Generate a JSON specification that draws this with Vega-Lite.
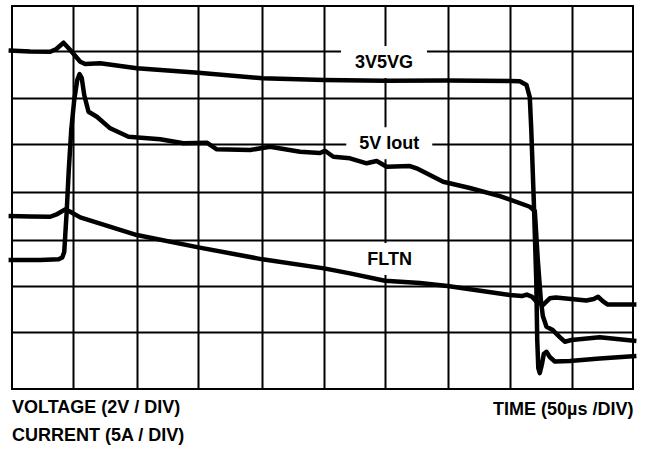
{
  "$schema": "https://vega.github.io/schema/vega-lite/v6.json",
  "width": 621,
  "height": 383,
  "autosize": {"type": "none"},
  "padding": {"left": 12, "top": 6, "right": 13, "bottom": 60},
  "background": "white",
  "title": {
    "text": ["VOLTAGE (2V / DIV)", "CURRENT (5A / DIV)"],
    "orient": "bottom",
    "anchor": "start",
    "frame": "group",
    "offset": -19,
    "font": "Liberation Sans",
    "fontSize": 18,
    "fontWeight": "bold",
    "lineHeight": 27.5,
    "color": "black",
    "baseline": "top"
  },
  "datasets": {
    "traces": [
      {"series": "3V5VG", "t": -0.055, "v": 7.047},
      {"series": "3V5VG", "t": 0.294, "v": 7.026},
      {"series": "3V5VG", "t": 0.616, "v": 7.021},
      {"series": "3V5VG", "t": 0.713, "v": 7.079},
      {"series": "3V5VG", "t": 0.83, "v": 7.214},
      {"series": "3V5VG", "t": 0.938, "v": 7.058},
      {"series": "3V5VG", "t": 1.099, "v": 6.807},
      {"series": "3V5VG", "t": 1.179, "v": 6.758},
      {"series": "3V5VG", "t": 1.42, "v": 6.773},
      {"series": "3V5VG", "t": 2.011, "v": 6.666},
      {"series": "3V5VG", "t": 3.002, "v": 6.572},
      {"series": "3V5VG", "t": 4.032, "v": 6.452},
      {"series": "3V5VG", "t": 5.024, "v": 6.415},
      {"series": "3V5VG", "t": 6.005, "v": 6.4},
      {"series": "3V5VG", "t": 7.014, "v": 6.405},
      {"series": "3V5VG", "t": 8.016, "v": 6.394},
      {"series": "3V5VG", "t": 8.177, "v": 6.388},
      {"series": "3V5VG", "t": 8.285, "v": 6.308},
      {"series": "3V5VG", "t": 8.338, "v": 6.051},
      {"series": "3V5VG", "t": 8.362, "v": 5.345},
      {"series": "3V5VG", "t": 8.402, "v": 3.846},
      {"series": "3V5VG", "t": 8.442, "v": 2.133},
      {"series": "3V5VG", "t": 8.458, "v": 0.848},
      {"series": "3V5VG", "t": 8.475, "v": 0.248},
      {"series": "3V5VG", "t": 8.499, "v": 0.141},
      {"series": "3V5VG", "t": 8.531, "v": 0.313},
      {"series": "3V5VG", "t": 8.563, "v": 0.548},
      {"series": "3V5VG", "t": 8.607, "v": 0.597},
      {"series": "3V5VG", "t": 8.66, "v": 0.484},
      {"series": "3V5VG", "t": 8.741, "v": 0.388},
      {"series": "3V5VG", "t": 8.982, "v": 0.398},
      {"series": "3V5VG", "t": 9.464, "v": 0.452},
      {"series": "3V5VG", "t": 10.055, "v": 0.505},

      {"series": "5V Iout", "t": -0.055, "v": 2.561},
      {"series": "5V Iout", "t": 0.455, "v": 2.561},
      {"series": "5V Iout", "t": 0.75, "v": 2.576},
      {"series": "5V Iout", "t": 0.809, "v": 2.615},
      {"series": "5V Iout", "t": 0.841, "v": 2.732},
      {"series": "5V Iout", "t": 0.882, "v": 3.632},
      {"series": "5V Iout", "t": 0.914, "v": 4.488},
      {"series": "5V Iout", "t": 0.954, "v": 5.345},
      {"series": "5V Iout", "t": 1.002, "v": 5.987},
      {"series": "5V Iout", "t": 1.051, "v": 6.415},
      {"series": "5V Iout", "t": 1.088, "v": 6.544},
      {"series": "5V Iout", "t": 1.123, "v": 6.458},
      {"series": "5V Iout", "t": 1.163, "v": 6.094},
      {"series": "5V Iout", "t": 1.232, "v": 5.737},
      {"series": "5V Iout", "t": 1.367, "v": 5.63},
      {"series": "5V Iout", "t": 1.581, "v": 5.381},
      {"series": "5V Iout", "t": 1.876, "v": 5.201},
      {"series": "5V Iout", "t": 2.386, "v": 5.146},
      {"series": "5V Iout", "t": 2.761, "v": 5.06},
      {"series": "5V Iout", "t": 3.137, "v": 5.073},
      {"series": "5V Iout", "t": 3.298, "v": 4.931},
      {"series": "5V Iout", "t": 3.834, "v": 4.916},
      {"series": "5V Iout", "t": 4.155, "v": 4.987},
      {"series": "5V Iout", "t": 4.638, "v": 4.88},
      {"series": "5V Iout", "t": 4.96, "v": 4.852},
      {"series": "5V Iout", "t": 5.04, "v": 4.901},
      {"series": "5V Iout", "t": 5.174, "v": 4.773},
      {"series": "5V Iout", "t": 5.442, "v": 4.739},
      {"series": "5V Iout", "t": 5.711, "v": 4.632},
      {"series": "5V Iout", "t": 5.872, "v": 4.681},
      {"series": "5V Iout", "t": 6.033, "v": 4.559},
      {"series": "5V Iout", "t": 6.408, "v": 4.574},
      {"series": "5V Iout", "t": 6.515, "v": 4.525},
      {"series": "5V Iout", "t": 6.943, "v": 4.238},
      {"series": "5V Iout", "t": 7.373, "v": 4.103},
      {"series": "5V Iout", "t": 7.856, "v": 3.931},
      {"series": "5V Iout", "t": 8.338, "v": 3.702},
      {"series": "5V Iout", "t": 8.419, "v": 3.61},
      {"series": "5V Iout", "t": 8.467, "v": 2.561},
      {"series": "5V Iout", "t": 8.516, "v": 1.704},
      {"series": "5V Iout", "t": 8.548, "v": 1.362},
      {"series": "5V Iout", "t": 8.607, "v": 1.133},
      {"series": "5V Iout", "t": 8.708, "v": 1.062},
      {"series": "5V Iout", "t": 8.821, "v": 0.912},
      {"series": "5V Iout", "t": 8.901, "v": 0.812},
      {"series": "5V Iout", "t": 9.009, "v": 0.848},
      {"series": "5V Iout", "t": 9.464, "v": 0.906},
      {"series": "5V Iout", "t": 10.055, "v": 0.827},

      {"series": "FLTN", "t": -0.055, "v": 3.503},
      {"series": "FLTN", "t": 0.294, "v": 3.493},
      {"series": "FLTN", "t": 0.616, "v": 3.488},
      {"series": "FLTN", "t": 0.729, "v": 3.546},
      {"series": "FLTN", "t": 0.857, "v": 3.647},
      {"series": "FLTN", "t": 0.938, "v": 3.595},
      {"series": "FLTN", "t": 1.099, "v": 3.475},
      {"series": "FLTN", "t": 2.011, "v": 3.096},
      {"series": "FLTN", "t": 3.002, "v": 2.833},
      {"series": "FLTN", "t": 4.032, "v": 2.576},
      {"series": "FLTN", "t": 5.024, "v": 2.383},
      {"series": "FLTN", "t": 5.442, "v": 2.276},
      {"series": "FLTN", "t": 6.005, "v": 2.118},
      {"series": "FLTN", "t": 6.569, "v": 2.069},
      {"series": "FLTN", "t": 7.014, "v": 2.004},
      {"series": "FLTN", "t": 8.016, "v": 1.812},
      {"series": "FLTN", "t": 8.209, "v": 1.79},
      {"series": "FLTN", "t": 8.29, "v": 1.822},
      {"series": "FLTN", "t": 8.37, "v": 1.779},
      {"series": "FLTN", "t": 8.451, "v": 1.662},
      {"series": "FLTN", "t": 8.548, "v": 1.597},
      {"series": "FLTN", "t": 8.66, "v": 1.741},
      {"series": "FLTN", "t": 8.757, "v": 1.758},
      {"series": "FLTN", "t": 9.25, "v": 1.694},
      {"series": "FLTN", "t": 9.368, "v": 1.726},
      {"series": "FLTN", "t": 9.437, "v": 1.775},
      {"series": "FLTN", "t": 9.513, "v": 1.683},
      {"series": "FLTN", "t": 9.594, "v": 1.608},
      {"series": "FLTN", "t": 10.055, "v": 1.608}
    ],
    "labels": [
      {"label": "3V5VG", "t": 5.99, "v": 6.672},
      {"label": "5V Iout", "t": 6.075, "v": 4.931},
      {"label": "FLTN", "t": 6.081, "v": 2.454}
    ]
  },
  "encoding": {
    "x": {
      "field": "t",
      "type": "quantitative",
      "scale": {"domain": [0, 10], "nice": false, "zero": false},
      "axis": {
        "values": [0.99, 2.01, 3, 4.03, 5.02, 6.01, 7.02, 8.02, 9.01],
        "grid": true,
        "domain": false,
        "ticks": false,
        "labels": false,
        "title": "TIME (50µs /DIV)",
        "titleAnchor": "end",
        "titleAlign": "right",
        "titleBaseline": "top",
        "titlePadding": 11,
        "titleFont": "Liberation Sans",
        "titleFontSize": 18,
        "titleFontWeight": "bold",
        "titleColor": "black"
      }
    },
    "y": {
      "field": "v",
      "type": "quantitative",
      "scale": {"domain": [-0.2, 8], "nice": false, "zero": false},
      "axis": {
        "values": [1.02, 2, 3, 4.02, 5.05, 6.04, 7.04],
        "grid": true,
        "domain": false,
        "ticks": false,
        "labels": false,
        "title": null
      }
    }
  },
  "layer": [
    {
      "data": {"name": "labels"},
      "mark": {
        "type": "point",
        "shape": "M-1,-0.372H1V0.372H-1Z",
        "size": 7396,
        "filled": true,
        "fill": "white",
        "strokeWidth": 0,
        "opacity": 1,
        "yOffset": -6,
        "clip": false
      }
    },
    {
      "data": {"name": "traces"},
      "mark": {
        "type": "line",
        "stroke": "black",
        "strokeWidth": 4.5,
        "strokeJoin": "round",
        "strokeCap": "butt",
        "clip": false,
        "interpolate": "linear"
      },
      "encoding": {
        "detail": {"field": "series", "type": "nominal"},
        "order": {"value": null}
      }
    },
    {
      "data": {"name": "labels"},
      "mark": {
        "type": "text",
        "font": "Liberation Sans",
        "fontSize": 18,
        "fontWeight": "bold",
        "align": "center",
        "baseline": "alphabetic",
        "color": "black"
      },
      "encoding": {
        "text": {"field": "label", "type": "nominal"}
      }
    }
  ],
  "config": {
    "view": {"stroke": "black", "strokeWidth": 2, "fill": "white"},
    "axis": {
      "gridColor": "black",
      "gridWidth": 2,
      "gridOpacity": 1
    }
  }
}
